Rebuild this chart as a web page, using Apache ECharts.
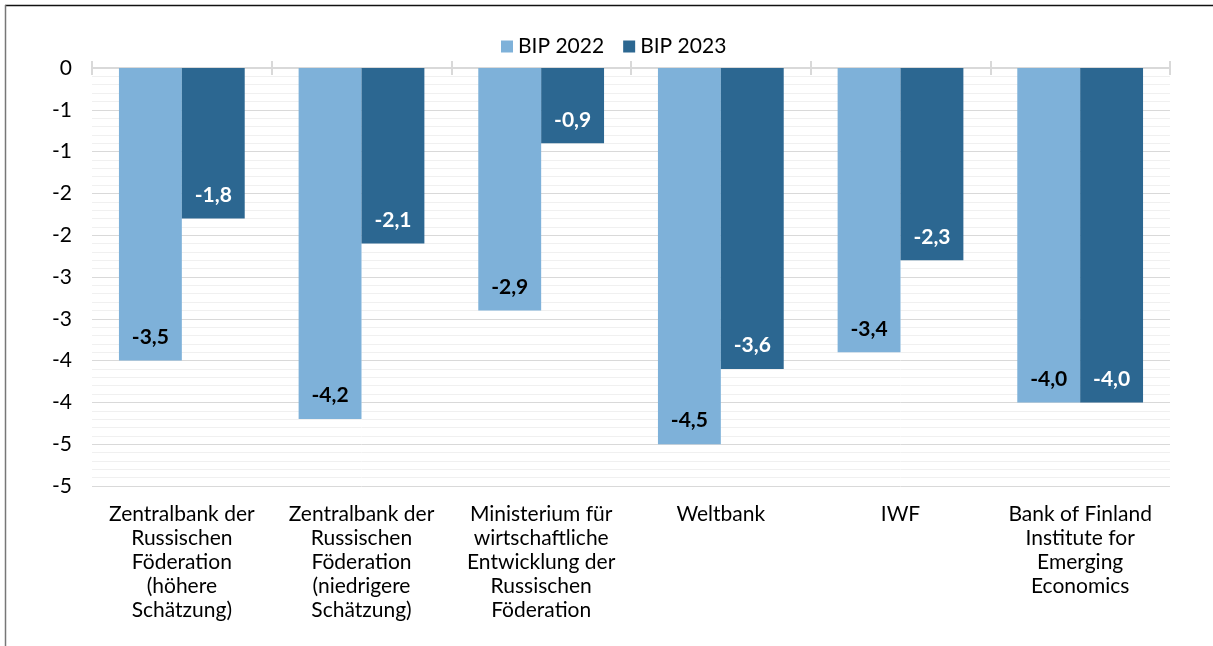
<!DOCTYPE html>
<html>
<head>
<meta charset="utf-8">
<script src="https://cdn.jsdelivr.net/npm/echarts@6/dist/echarts.min.js"></script>
<style>
  html, body { margin: 0; padding: 0; background: #fff; }
  #chart { width: 1213px; height: 646px; }
</style>
</head>
<body>
<div id="chart"></div>
<script>
// Kategorien (Zeilenumbrüche wie im Original)
const categories = [
  'Zentralbank der\nRussischen\nFöderation\n(höhere\nSchätzung)',
  'Zentralbank der\nRussischen\nFöderation\n(niedrigere\nSchätzung)',
  'Ministerium für\nwirtschaftliche\nEntwicklung der\nRussischen\nFöderation',
  'Weltbank',
  'IWF',
  'Bank of Finland\nInstitute for\nEmerging\nEconomics'
]
const bip2022 = [-3.5, -4.2, -2.9, -4.5, -3.4, -4.0]
const bip2023 = [-1.8, -2.1, -0.9, -3.6, -2.3, -4.0]
const seriesNames = ['BIP 2022', 'BIP 2023']

const font = 'Lato'
const fontSize = 21
const gridColor = '#d9d9d9'

function fmtValue(v) {
  return v.toFixed(1).replace('.', ',')
}
// Excel rundet -0,5 auf -1 (weg von null)
function fmtAxis(v) {
  let r = -Math.round(Math.abs(v))
  if (v >= 0) r = Math.round(v)
  return String(r === 0 ? 0 : r)
}

const chart = echarts.init(document.getElementById('chart'))

chart.setOption({
  animation: false,
  textStyle: { fontFamily: font },
  graphic: [
    { type: 'line', shape: { x1: 5, y1: 5.5, x2: 1213, y2: 5.5 }, style: { stroke: '#111', lineWidth: 1.5 } },
    { type: 'line', shape: { x1: 5.5, y1: 5, x2: 5.5, y2: 646 }, style: { stroke: '#777', lineWidth: 1.5 } }
  ],
  legend: {
    data: seriesNames,
    left: 496,
    top: 31,
    icon: 'rect',
    itemWidth: 12,
    itemHeight: 12,
    itemGap: 19,
    textStyle: { fontFamily: font, fontSize: fontSize, color: '#000' }
  },
  grid: {
    left: 92,
    right: 43,
    top: 68,
    bottom: 160
  },
  xAxis: [
    {
      type: 'category',
      position: 'bottom',
      data: categories,
      axisLine: { show: false },
      axisTick: { show: false },
      axisLabel: {
        interval: 0,
        margin: 16,
        fontFamily: font,
        fontSize: fontSize,
        lineHeight: 24,
        color: '#000',
        align: 'center'
      }
    },
    {
      type: 'category',
      position: 'top',
      data: categories,
      axisLine: { show: true, lineStyle: { color: gridColor, width: 2 } },
      axisTick: { show: true, length: 7, lineStyle: { color: gridColor, width: 2 } },
      axisLabel: { show: false }
    },
    {
      type: 'category',
      position: 'top',
      data: categories,
      axisLine: { show: false },
      axisTick: { show: true, inside: true, length: 7, lineStyle: { color: gridColor, width: 2 } },
      axisLabel: { show: false }
    }
  ],
  yAxis: {
    type: 'value',
    min: -5,
    max: 0,
    interval: 0.5,
    axisLine: { show: false },
    axisTick: { show: false },
    axisLabel: {
      margin: 20,
      fontFamily: font,
      fontSize: fontSize,
      color: '#000',
      formatter: fmtAxis
    },
    splitLine: { lineStyle: { color: gridColor, width: 1 } },
    minorTick: { show: false, splitNumber: 5 },
    minorSplitLine: { show: true, lineStyle: { color: '#f0f0f0', width: 1 } }
  },
  series: [
    {
      name: seriesNames[0],
      type: 'bar',
      xAxisIndex: 0,
      data: bip2022,
      barWidth: '35%',
      barGap: '0%',
      itemStyle: { color: '#7eb1d9' },
      label: {
        show: true,
        position: 'insideBottom',
        distance: 13,
        fontFamily: font,
        fontSize: fontSize,
        fontWeight: 'bold',
        color: '#000',
        formatter: p => fmtValue(p.value)
      }
    },
    {
      name: seriesNames[1],
      type: 'bar',
      xAxisIndex: 0,
      data: bip2023,
      barWidth: '35%',
      barGap: '0%',
      itemStyle: { color: '#2c6791' },
      label: {
        show: true,
        position: 'insideBottom',
        distance: 13,
        fontFamily: font,
        fontSize: fontSize,
        fontWeight: 'bold',
        color: '#fff',
        formatter: p => fmtValue(p.value)
      }
    }
  ]
})
</script>
</body>
</html>
